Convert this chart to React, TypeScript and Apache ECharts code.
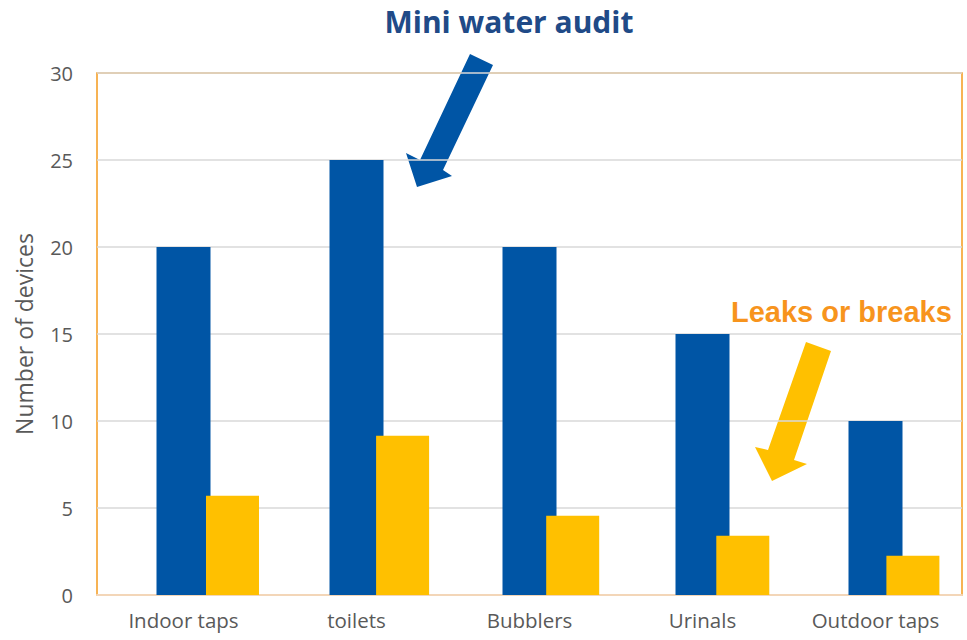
import React, { useEffect, useRef } from "react";
import * as echarts from "echarts";

const categories = ["Indoor taps", "toilets", "Bubblers", "Urinals", "Outdoor taps"];
const auditValues = [20, 25, 20, 15, 10];
const leakValues = [5.7, 9.15, 4.55, 3.4, 2.25];
const spacerValues = [null, null, null, null, null];
const yTicks = [0, 5, 10, 15, 20, 25, 30];

const FONT = "Open Sans";

export default function App() {
  const ref = useRef<HTMLDivElement>(null);
  useEffect(() => {
    if (!ref.current) return;
    const chart = echarts.init(ref.current, null, { renderer: "svg" });
    const yMin = yTicks[0];
    const yMax = yTicks[yTicks.length - 1];
    chart.setOption({
      animation: false,
      grid: [
        {
          left: 97,
          right: 5,
          top: 73,
          bottom: 45,
          show: true,
          borderColor: "#F59A1C",
          borderWidth: 1.5,
        },
        { left: 110, width: 850.5, top: 73, bottom: 45, show: false },
      ],
      xAxis: [
        {
          type: "category",
          gridIndex: 0,
          data: categories,
          axisTick: { show: false },
          axisLine: { show: true, lineStyle: { color: "#F3D6B8", width: 2 } },
          axisLabel: { color: "#595959", fontSize: 20.5, fontFamily: FONT, margin: 14 },
        },
        { type: "category", gridIndex: 1, data: categories, show: false },
      ],
      yAxis: [
        {
          type: "value",
          gridIndex: 0,
          min: yMin,
          max: yMax,
          interval: 5,
          name: "Number of devices",
          nameLocation: "middle",
          nameGap: 62,
          nameTextStyle: { color: "#595959", fontSize: 23, fontFamily: FONT },
          axisLabel: { color: "#595959", fontSize: 20, fontFamily: FONT, margin: 24 },
          splitLine: { lineStyle: { color: "#D9D9D9", width: 1.5 } },
          axisLine: { show: false },
        },
        { type: "value", gridIndex: 1, min: yMin, max: yMax, interval: 5, show: false, splitLine: { show: false } },
      ],
      series: [
        {
          type: "bar",
          name: "Mini water audit",
          data: auditValues,
          barWidth: 54,
          itemStyle: { color: "#0055A5" },
          z: 2,
        },
        {
          type: "bar",
          name: "spacer",
          xAxisIndex: 1,
          yAxisIndex: 1,
          data: spacerValues,
          barWidth: 53,
          barGap: "41.3%",
        },
        {
          type: "bar",
          name: "Leaks or breaks",
          xAxisIndex: 1,
          yAxisIndex: 1,
          data: leakValues,
          barWidth: 53,
          barGap: "41.3%",
          itemStyle: { color: "#FFC000" },
          z: 3,
        },
      ],
      graphic: [
        {
          type: "text",
          style: {
            x: 509,
            y: 21,
            textAlign: "center",
            textVerticalAlign: "middle",
            text: "Mini water audit",
            fill: "#204A87",
            fontSize: 30,
            fontWeight: "bold",
            fontFamily: FONT,
          },
        },
        {
          type: "text",
          style: {
            x: 731,
            y: 312,
            textVerticalAlign: "middle",
            text: "Leaks or breaks",
            fill: "#F7941D",
            fontSize: 29,
            fontWeight: "bold",
            fontFamily: "Liberation Sans",
          },
        },
        {
          type: "polygon",
          shape: {
            points: [
              [470, 54],
              [493, 65],
              [443, 170],
              [452, 176],
              [417, 187],
              [406, 153],
              [420, 160],
            ],
          },
          style: { fill: "#0055A5" },
        },
        {
          type: "polygon",
          shape: {
            points: [
              [806, 342],
              [831, 351],
              [794, 460],
              [807, 464],
              [772, 481],
              [755, 447],
              [768, 450],
            ],
          },
          style: { fill: "#FFC000" },
        },
      ],
    });
    return () => chart.dispose();
  }, []);
  return <div ref={ref} style={{ width: 967, height: 640, position: "absolute", left: 0, top: 0 }} />;
}
